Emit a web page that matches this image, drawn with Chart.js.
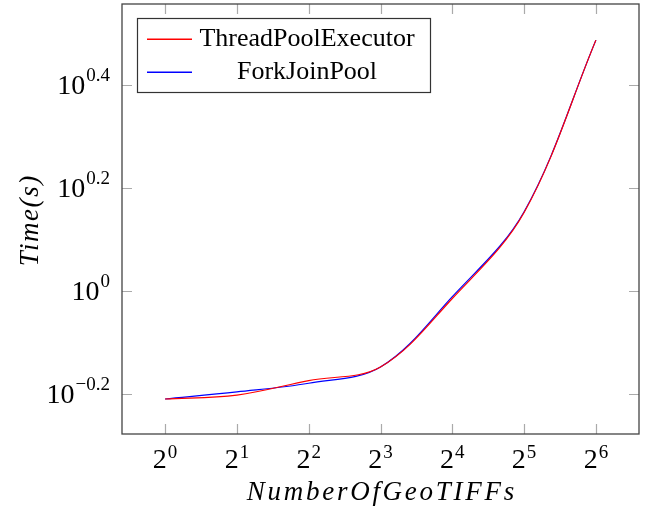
<!DOCTYPE html>
<html>
<head>
<meta charset="utf-8">
<script src="https://cdn.jsdelivr.net/npm/chart.js@4/dist/chart.umd.min.js"></script>
<style>
html,body{margin:0;padding:0;background:#fff;}
#wrap{width:649px;height:510px;position:relative;}
</style>
</head>
<body>
<div id="wrap"><canvas id="c" width="649" height="510"></canvas></div>
<script>
// ---- data ----
const xValues = [1, 2, 4, 8, 16, 32, 64];
const threadPoolExecutor = [0.617, 0.628, 0.670, 0.712, 0.967, 1.420, 3.07];
const forkJoinPool = [0.617, 0.637, 0.662, 0.712, 0.975, 1.425, 3.07];
const seriesNames = ['ThreadPoolExecutor', 'ForkJoinPool'];
const seriesColors = ['#ff0000', '#0000ff'];
const xTickExponents = [0, 1, 2, 3, 4, 5, 6];
const yTickExponents = ['-0.2', '0', '0.2', '0.4'];
const xTitle = 'NumberOfGeoTIFFs';
const yTitle = 'Time(s)';

const toPoints = arr => arr.map((v, i) => ({x: xValues[i], y: v}));

const SERIF = '"Liberation Serif", "DejaVu Serif", serif';

const decor = {
  id: 'decor',
  afterDraw(chart) {
    const ctx = chart.ctx;
    const a = chart.chartArea;
    const xs = chart.scales.x, ys = chart.scales.y;
    ctx.save();
    // ticks (inside, all four sides)
    ctx.strokeStyle = '#aaaaaa';
    ctx.lineWidth = 1.2;
    const TL = 10;
    xTickExponents.forEach(e => {
      const px = Math.round(xs.getPixelForValue(Math.pow(2, e))) + 0.5;
      ctx.beginPath();
      ctx.moveTo(px, a.bottom); ctx.lineTo(px, a.bottom - TL);
      ctx.moveTo(px, a.top); ctx.lineTo(px, a.top + TL);
      ctx.stroke();
    });
    yTickExponents.forEach(e => {
      const py = Math.round(ys.getPixelForValue(Math.pow(10, parseFloat(e)))) + 0.5;
      ctx.beginPath();
      ctx.moveTo(a.left, py); ctx.lineTo(a.left + TL, py);
      ctx.moveTo(a.right, py); ctx.lineTo(a.right - TL, py);
      ctx.stroke();
    });
    // frame
    ctx.strokeStyle = '#444444';
    ctx.lineWidth = 1.3;
    ctx.strokeRect(a.left, a.top, a.right - a.left, a.bottom - a.top);

    // x tick labels
    ctx.fillStyle = '#000';
    ctx.textBaseline = 'alphabetic';
    xTickExponents.forEach(e => {
      const px = xs.getPixelForValue(Math.pow(2, e));
      ctx.font = '28px ' + SERIF;
      const wb = ctx.measureText('2').width;
      ctx.font = '19px ' + SERIF;
      const we = ctx.measureText(String(e)).width;
      const start = px - (wb + we + 1) / 2;
      ctx.textAlign = 'left';
      ctx.font = '28px ' + SERIF;
      ctx.fillText('2', start, a.bottom + 34);
      ctx.font = '19px ' + SERIF;
      ctx.fillText(String(e), start + wb + 1, a.bottom + 24);
    });
    // y tick labels
    yTickExponents.forEach(e => {
      const py = ys.getPixelForValue(Math.pow(10, parseFloat(e)));
      const expText = e.replace('-', '\u2212');
      ctx.font = '19px ' + SERIF;
      const we = ctx.measureText(expText).width;
      const right = a.left - 12;
      ctx.textAlign = 'left';
      ctx.fillText(expText, right - we, py - 4);
      ctx.textAlign = 'right';
      ctx.font = '28px ' + SERIF;
      ctx.fillText('10', right - we - 1, py + 9);
    });

    // axis titles
    ctx.font = 'italic 27px ' + SERIF;
    ctx.textAlign = 'center';
    const targetW = 270;
    const n = xTitle.length;
    ctx.letterSpacing = '0px';
    const mw = ctx.measureText(xTitle).width;
    const ls = (targetW - mw) / n;
    ctx.letterSpacing = ls.toFixed(2) + 'px';
    ctx.fillText(xTitle, (a.left + a.right) / 2 + ls / 2, 500);
    ctx.letterSpacing = '0px';

    ctx.save();
    ctx.translate(38, 221);
    ctx.rotate(-Math.PI / 2);
    ctx.font = 'italic 27px ' + SERIF;
    const tw = ctx.measureText(yTitle).width;
    const ls2 = (92 - tw) / yTitle.length;
    ctx.letterSpacing = ls2.toFixed(2) + 'px';
    ctx.textAlign = 'center';
    ctx.fillText(yTitle, ls2 / 2, 0);
    ctx.restore();
    ctx.letterSpacing = '0px';

    // legend
    const lx = 137.5, ly = 18.5, lw = 293, lh = 74;
    ctx.fillStyle = '#fff';
    ctx.fillRect(lx, ly, lw, lh);
    ctx.strokeStyle = '#333';
    ctx.lineWidth = 1.2;
    ctx.strokeRect(lx, ly, lw, lh);
    const rows = [39.3, 72.3];
    seriesNames.forEach((name, i) => {
      ctx.beginPath();
      ctx.strokeStyle = seriesColors[i];
      ctx.lineWidth = 1.4;
      ctx.moveTo(147, rows[i]); ctx.lineTo(192, rows[i]);
      ctx.stroke();
      ctx.fillStyle = '#000';
      ctx.font = '26px ' + SERIF;
      ctx.textAlign = 'center';
      ctx.fillText(name, 307, rows[i] + 7);
    });
    ctx.restore();
  }
};

new Chart(document.getElementById('c'), {
  type: 'line',
  data: {
    datasets: [
      {label: seriesNames[0], data: toPoints(threadPoolExecutor), borderColor: seriesColors[0], borderWidth: 1.2, pointRadius: 0, tension: 0.35, fill: false},
      {label: seriesNames[1], data: toPoints(forkJoinPool), borderColor: seriesColors[1], borderWidth: 1.2, pointRadius: 0, tension: 0.35, fill: false}
    ]
  },
  options: {
    responsive: false,
    animation: false,
    devicePixelRatio: 1,
    layout: {padding: {left: 122, right: 10, top: 4, bottom: 76}},
    plugins: {legend: {display: false}, tooltip: {enabled: false}},
    scales: {
      x: {type: 'logarithmic', display: false, min: Math.pow(2, -0.6), max: Math.pow(2, 6.6)},
      y: {type: 'logarithmic', display: false, min: Math.pow(10, -0.2777), max: Math.pow(10, 0.5573)}
    }
  },
  plugins: [decor]
});
</script>
</body>
</html>
